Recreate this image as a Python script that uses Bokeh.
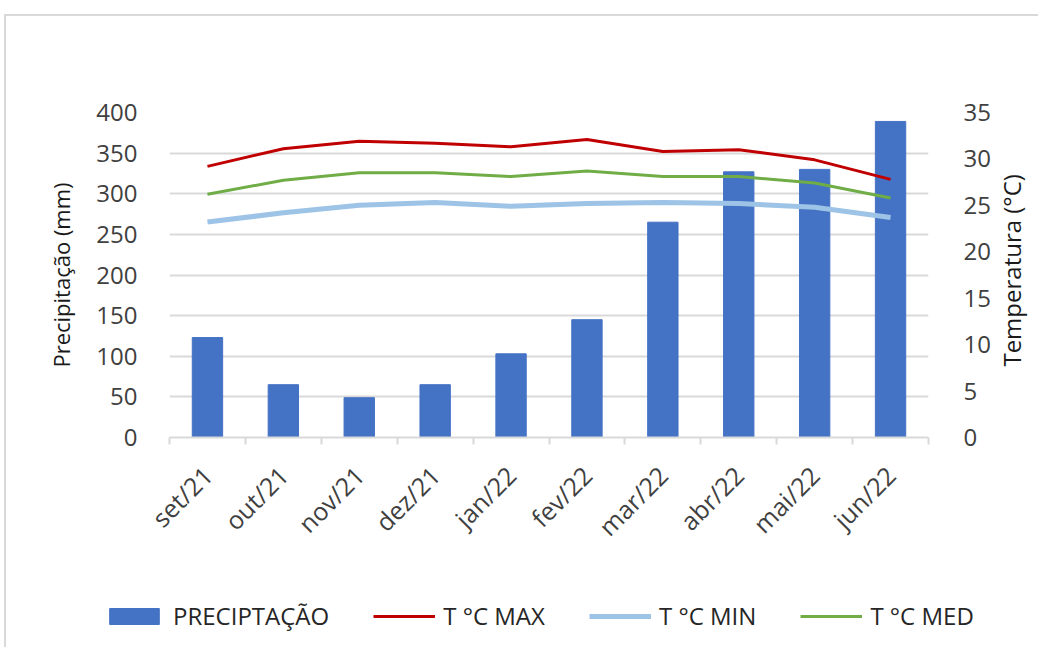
from bokeh.plotting import figure
from bokeh.models import (Range1d, LinearAxis, FixedTicker, Legend, LegendItem, Label)
from bokeh.layouts import column, row
from bokeh.embed import file_html
from bokeh.resources import INLINE

months = ["set/21", "out/21", "nov/21", "dez/21", "jan/22", "fev/22",
          "mar/22", "abr/22", "mai/22", "jun/22"]
precip = [123, 65, 49, 65, 103, 145, 265, 327, 330, 389]
t_max = [29.2, 31.1, 31.9, 31.7, 31.3, 32.1, 30.8, 31.0, 29.9, 27.8]
t_min = [23.2, 24.2, 25.0, 25.3, 24.9, 25.2, 25.3, 25.2, 24.8, 23.7]
t_med = [26.2, 27.7, 28.5, 28.5, 28.1, 28.7, 28.1, 28.1, 27.4, 25.8]
left_ticks = [0, 50, 100, 150, 200, 250, 300, 350, 400]
right_ticks = [0, 5, 10, 15, 20, 25, 30, 35]

FONT = "Open Sans"
xs = list(range(1, len(months) + 1))

MB_L, MB_R, MB_T, MB_B = 163, 62, 96, 140
FW, FH = 759, 325
H_MAIN = MB_T + FH + MB_B

C_BAR, C_MAX, C_MIN, C_MED = "#4472c4", "#c00000", "#9dc3e6", "#70ad47"

p = figure(frame_width=FW, frame_height=FH,
           min_border_left=MB_L, min_border_right=MB_R,
           min_border_top=MB_T, min_border_bottom=MB_B,
           x_range=Range1d(0.5, len(months) + 0.5), y_range=Range1d(0, 400),
           output_backend="svg", toolbar_location=None)
p.outline_line_color = None
p.extra_y_ranges = {"temp": Range1d(0, 35)}

bars = p.vbar(x=xs, top=precip, width=0.4, color=C_BAR)
l_max = p.line(xs, t_max, line_color=C_MAX, line_width=3, y_range_name="temp")
l_min = p.line(xs, t_min, line_color=C_MIN, line_width=5, y_range_name="temp")
l_med = p.line(xs, t_med, line_color=C_MED, line_width=3, y_range_name="temp")

# x axis
xa = p.xaxis[0]
xa.ticker = FixedTicker(ticks=xs, minor_ticks=[x - 0.5 for x in xs] + [len(xs) + 0.5])
xa.major_label_overrides = {x: m for x, m in zip(xs, months)}
xa.major_label_orientation = 0.785398
xa.major_tick_out = 0
xa.major_tick_in = 0
xa.minor_tick_out = 7
xa.minor_tick_in = 0
xa.minor_tick_line_color = "#d9d9d9"
xa.minor_tick_line_width = 2
xa.axis_line_color = "#d9d9d9"
xa.axis_line_width = 2
xa.major_label_text_font = FONT
xa.major_label_text_font_size = "25px"
xa.major_label_text_color = "#404040"
xa.major_label_standoff = 26

# left axis
ya = p.yaxis[0]
ya.ticker = FixedTicker(ticks=left_ticks)
ya.axis_line_color = None
ya.major_tick_line_color = None
ya.minor_tick_line_color = None
ya.major_label_standoff = 26
ya.major_label_text_font = FONT
ya.major_label_text_font_size = "24px"
ya.major_label_text_color = "#404040"
ya.axis_label = "Precipitação (mm)"
ya.axis_label_text_font = FONT
ya.axis_label_text_font_size = "22px"
ya.axis_label_text_font_style = "normal"
ya.axis_label_text_color = "#1a1a1a"
ya.axis_label_standoff = 17

# right axis
ra = LinearAxis(y_range_name="temp", ticker=FixedTicker(ticks=right_ticks))
ra.axis_line_color = None
ra.major_tick_line_color = None
ra.minor_tick_line_color = None
ra.major_label_standoff = 29
ra.major_label_text_font = FONT
ra.major_label_text_font_size = "24px"
ra.major_label_text_color = "#404040"
p.add_layout(ra, "right")

p.xgrid.grid_line_color = None
p.ygrid.grid_line_color = "#d9d9d9"
p.ygrid.grid_line_width = 2
p.ygrid.ticker = FixedTicker(ticks=left_ticks)

# right axis title panel
R_W = 45
pr = figure(width=R_W, height=H_MAIN, min_border=0,
            x_range=Range1d(0, R_W), y_range=Range1d(H_MAIN, 0),
            output_backend="svg", toolbar_location=None)
pr.axis.visible = False
pr.grid.visible = False
pr.outline_line_color = None
pr.add_layout(Label(x=18, y=MB_T + FH / 2 + 14, text="Temperatura (°C)", angle=1.5708,
                    text_align="center", text_baseline="middle",
                    text_font=FONT, text_font_size="24px", text_color="#1a1a1a"))

# legend panel (series drawn outside its visible ranges, only the legend shows)
L_W, L_H = MB_L + FW + MB_R + R_W, 70
pl = figure(width=L_W, height=L_H, min_border=0,
            x_range=Range1d(-200, -100), y_range=Range1d(-200, -100),
            output_backend="svg", toolbar_location=None)
pl.axis.visible = False
pl.grid.visible = False
pl.outline_line_color = None
d_bar = pl.vbar(x=xs, top=precip, width=0.4, color=C_BAR)
d_max = pl.line(xs, t_max, line_color=C_MAX, line_width=3)
d_min = pl.line(xs, t_min, line_color=C_MIN, line_width=5)
d_med = pl.line(xs, t_med, line_color=C_MED, line_width=3)
legend = Legend(items=[
    LegendItem(label="PRECIPTAÇÃO", renderers=[d_bar]),
    LegendItem(label="T °C MAX", renderers=[d_max]),
    LegendItem(label="T °C MIN", renderers=[d_min]),
    LegendItem(label="T °C MED", renderers=[d_med]),
], location=(97, 15), orientation="horizontal",
    glyph_width=62, glyph_height=20, label_standoff=8, spacing=44,
    padding=0, margin=0, border_line_alpha=0, background_fill_alpha=0,
    label_text_font=FONT, label_text_font_size="24px", label_text_color="#262626")
pl.add_layout(legend)

layout = column(row(p, pr), pl,
                styles={"border-top": "2px solid #d9d9d9", "border-left": "2px solid #d9d9d9",
                        "margin-top": "14px", "margin-left": "4px"})

open("out.html", "w").write(file_html(layout, INLINE))
